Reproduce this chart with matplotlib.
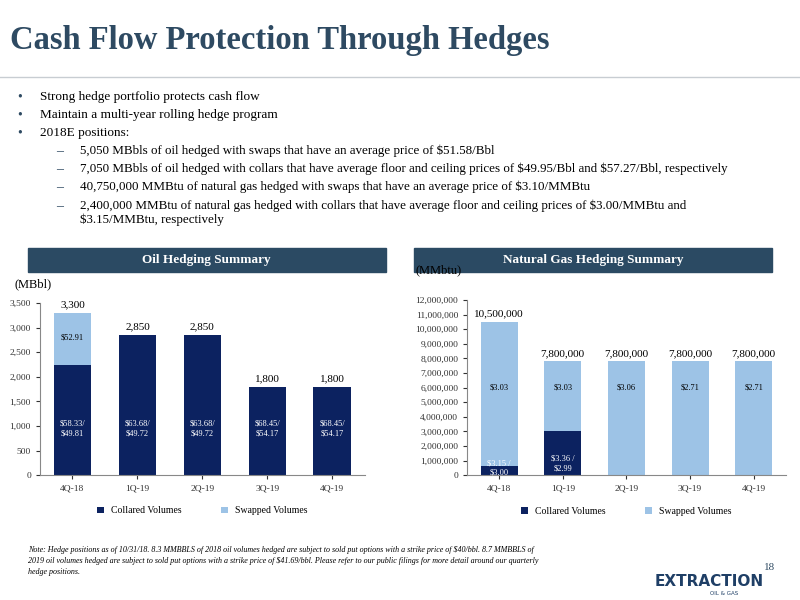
import matplotlib
matplotlib.use("Agg")
import matplotlib.pyplot as plt
from matplotlib.patches import Rectangle
import numpy as np

plt.rcParams["font.family"] = ["Liberation Serif", "DejaVu Serif"]

quarters = ["4Q-18", "1Q-19", "2Q-19", "3Q-19", "4Q-19"]
oil_collared = [2250, 2850, 2850, 1800, 1800]
oil_swapped = [1050, 0, 0, 0, 0]
oil_totals = ["3,300", "2,850", "2,850", "1,800", "1,800"]
oil_collar_labels = ["$58.33/\n$49.81", "$63.68/\n$49.72", "$63.68/\n$49.72", "$68.45/\n$54.17", "$68.45/\n$54.17"]
oil_swap_labels = ["$52.91", "", "", "", ""]

gas_collared = [600000, 3000000, 0, 0, 0]
gas_swapped = [9900000, 4800000, 7800000, 7800000, 7800000]
gas_totals = ["10,500,000", "7,800,000", "7,800,000", "7,800,000", "7,800,000"]
gas_collar_labels = ["$3.15 /\n$3.00", "$3.36 /\n$2.99", "", "", ""]
gas_swap_labels = ["$3.03", "$3.03", "$3.06", "$2.71", "$2.71"]

navy = "#0C2260"
light = "#9DC3E6"
head = "#2B4A63"


def esc(s):
    return s.replace("$", r"\$")


fig = plt.figure(figsize=(8, 6), dpi=100)
fig.text(0.012, 0.933, "Cash Flow Protection Through Hedges", fontsize=23.5, fontweight="bold",
         color="#2E4A62", va="center")
fig.add_artist(plt.Line2D([0, 1], [0.872, 0.872], color="#C8CDD2", lw=1))

bullets = ["Strong hedge portfolio protects cash flow",
           "Maintain a multi-year rolling hedge program",
           "2018E positions:"]
for i, b in enumerate(bullets):
    y = 1 - (97 + i * 18) / 600
    fig.text(0.022, y, "\u2022", fontsize=10, color="#2E4A62", va="center")
    fig.text(0.05, y, b, fontsize=9.5, va="center")
subs = ["5,050 MBbls of oil hedged with swaps that have an average price of $51.58/Bbl",
        "7,050 MBbls of oil hedged with collars that have average floor and ceiling prices of $49.95/Bbl and $57.27/Bbl, respectively",
        "40,750,000 MMBtu of natural gas hedged with swaps that have an average price of $3.10/MMBtu",
        "2,400,000 MMBtu of natural gas hedged with collars that have average floor and ceiling prices of $3.00/MMBtu and\n$3.15/MMBtu, respectively"]
ys = [152, 170, 188, 207]
for y, s in zip(ys, subs):
    fy = 1 - y / 600
    fig.text(0.07, fy, "\u2013", fontsize=10, color="#2E4A62", va="center")
    fig.text(0.1, fy + 0.013, esc(s), fontsize=9.4, va="top", linespacing=1.2)

for x0, w, t in [(0.035, 0.447, "Oil Hedging Summary"), (0.517, 0.448, "Natural Gas Hedging Summary")]:
    fig.add_artist(Rectangle((x0, 0.547), w, 0.04, transform=fig.transFigure, color=head))
    fig.text(x0 + w / 2, 0.567, t, ha="center", va="center", color="white", fontsize=9.5, fontweight="bold")

fig.text(0.018, 0.521, "(MBbl)", fontsize=9)
fig.text(0.52, 0.545, "(MMbtu)", fontsize=9)

x = np.arange(len(quarters))


def draw(ax, coll, swap, totals, clab, slab, ymax, step, cy, sy):
    ax.bar(x, coll, width=0.58, color=navy, label="Collared Volumes")
    ax.bar(x, swap, width=0.58, bottom=coll, color=light, label="Swapped Volumes")
    for i in x:
        top = coll[i] + swap[i]
        ax.text(i, top + ymax * 0.02, totals[i], ha="center", va="bottom", fontsize=8)
        if clab[i]:
            ax.text(i, cy[i], esc(clab[i]), ha="center", va="center", fontsize=6, color="white")
        if slab[i]:
            ax.text(i, sy[i], esc(slab[i]), ha="center", va="center", fontsize=6, color="black")
    ax.set_ylim(0, ymax)
    ax.set_yticks(np.arange(0, ymax + 1, step))
    ax.yaxis.set_major_formatter(matplotlib.ticker.FuncFormatter(lambda v, p: f"{v:,.0f}"))
    ax.set_xticks(x, quarters)
    ax.set_xlim(-0.5, 4.5)
    for s in ["top", "right"]:
        ax.spines[s].set_visible(False)
    ax.spines["left"].set_color("#888888")
    ax.spines["bottom"].set_color("#888888")
    ax.tick_params(labelsize=6.8, length=3, colors="#333333")
    ax.legend(loc="upper center", bbox_to_anchor=(0.5, -0.13), ncol=2, frameon=False,
              fontsize=7, handlelength=0.7, handleheight=0.7, columnspacing=4)


ax1 = fig.add_axes([0.05, 0.208, 0.406, 0.287])
draw(ax1, oil_collared, oil_swapped, oil_totals, oil_collar_labels, oil_swap_labels, 3500, 500,
     [950] * 5, [2800] * 5)

ax2 = fig.add_axes([0.584, 0.208, 0.398, 0.292])
draw(ax2, gas_collared, gas_swapped, gas_totals, gas_collar_labels, gas_swap_labels, 12000000, 1000000,
     [500000, 800000, 0, 0, 0], [6000000] * 5)

fig.text(0.035, 0.09, "Note: Hedge positions as of 10/31/18. 8.3 MMBBLS of 2018 oil volumes hedged are subject to sold put options with a strike price of \\$40/bbl. 8.7 MMBBLS of\n"
         "2019 oil volumes hedged are subject to sold put options with a strike price of \\$41.69/bbl. Please refer to our public filings for more detail around our quarterly\n"
         "hedge positions.", fontsize=5.8, style="italic", va="top", linespacing=1.5)
fig.text(0.962, 0.05, "18", fontsize=8, color="#2E4A62", ha="center")
fig.text(0.955, 0.023, "EXTRACTION", fontsize=11, fontweight="bold", color="#1F3F66", ha="right",
         family=["DejaVu Sans"])
fig.text(0.905, 0.008, "OIL & GAS", fontsize=4, color="#1F3F66", ha="center", family=["DejaVu Sans"])

fig.savefig("out.png", dpi=100)
